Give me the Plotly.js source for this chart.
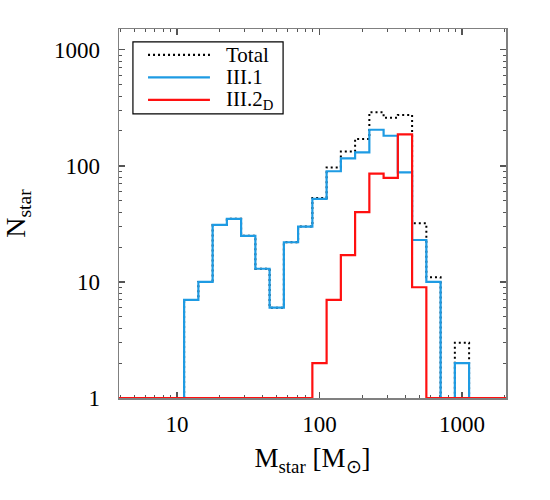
<!DOCTYPE html>
<html>
<head>
<meta charset="utf-8">
<script src="https://cdn.plot.ly/plotly-3.0.1.min.js"></script>
<style>html,body{margin:0;padding:0;background:#fff;}#chart{width:550px;height:500px;}</style>
</head>
<body>
<div id="chart"></div>
<script>
// log10 of bin edges (21 edges -> 20 bins)
var binEdgesLog = [1.05,1.15,1.25,1.35,1.45,1.55,1.65,1.75,1.85,1.95,2.05,2.15,2.25,2.35,2.45,2.55,2.65,2.75,2.85,2.95,3.05];
// counts per bin
var totalCounts = [7,10,31,35,25,13,6,22,30,53,97,133,171,290,260,275,32,11,0,3];
var pop1Counts  = [7,10,31,35,25,13,6,22,30,52,90,116,131,205,182,88,23,10,0,2];
var pop2Counts  = [0,0,0,0,0,0,0,0,0,2,7,17,40,86,79,187,9,0,0,0];
var seriesNames = ["Total","III.1","III.2<sub>D</sub>"];
var xTickVals = [10,100,1000];
var yTickVals = [1,10,100,1000];

var xRangeLog = [0.593, 3.309];
var yRangeLog = [0, 3.18];
var floorVal = Math.pow(10, yRangeLog[0]);

function stepTrace(counts, color, dash, width){
  var xs = [Math.pow(10, xRangeLog[0])];
  var ys = [floorVal];
  for (var i = 0; i < counts.length; i++){
    xs.push(Math.pow(10, binEdgesLog[i]));
    ys.push(counts[i] > 0 ? counts[i] : floorVal);
  }
  xs.push(Math.pow(10, binEdgesLog[counts.length]));
  ys.push(floorVal);
  xs.push(Math.pow(10, xRangeLog[1]));
  ys.push(floorVal);
  return {x: xs, y: ys, mode: 'lines', type: 'scatter', showlegend: false,
          line: {shape: 'hv', color: color, width: width, dash: dash}, hoverinfo: 'skip'};
}

var colTotal = '#000000', colP1 = '#1e9be3', colP2 = '#ff1010';
var data = [
  stepTrace(totalCounts, colTotal, '2px,3px', 2),
  stepTrace(pop1Counts, colP1, 'solid', 2.2),
  stepTrace(pop2Counts, colP2, 'solid', 2.2)
];

function minorVals(lo, hi){
  var v = [];
  for (var d = lo; d < hi; d++) for (var m = 2; m <= 9; m++) v.push(m * Math.pow(10, d));
  return v;
}

var serif = 'Liberation Serif, Times New Roman, serif';
var axCommon = {
  type: 'log', showgrid: false, zeroline: false,
  showline: true, linecolor: '#808080', linewidth: 1.5, mirror: 'allticks',
  ticks: 'inside', ticklen: 6, tickwidth: 1.2, tickcolor: '#555',
  tickfont: {family: serif, size: 23, color: '#000'},
  layer: 'below traces'
};

var xaxis = Object.assign({}, axCommon, {
  range: xRangeLog, tickmode: 'array', tickvals: xTickVals, ticktext: ['10','100','1000'],
  ticklabelstandoff: 5,
  minor: {tickmode: 'array', tickvals: minorVals(0, 4), ticks: 'inside', ticklen: 3, tickcolor: '#555', tickwidth: 1},
  title: {text: 'M<sub>star</sub> [M<sub>⊙</sub>]', font: {family: serif, size: 27, color: '#000'}, standoff: 12}
});
var yaxis = Object.assign({}, axCommon, {
  range: yRangeLog, tickmode: 'array', tickvals: yTickVals, ticktext: ['1','10','100','1000'],
  ticklabelstandoff: 13,
  minor: {tickmode: 'array', tickvals: minorVals(0, 4), ticks: 'inside', ticklen: 3, tickcolor: '#555', tickwidth: 1},
  title: {text: 'N<sub>star</sub>', font: {family: serif, size: 28, color: '#000'}, standoff: 22}
});

// manual legend (paper coords)
var L = {x0: 0.036, x1: 0.424, y0: 0.77, y1: 0.965};
var rowY = [0.930, 0.869, 0.808];
var rowCol = [colTotal, colP1, colP2];
var rowDash = ['2px,3px', 'solid', 'solid'];
var shapes = [{type: 'rect', xref: 'paper', yref: 'paper', x0: L.x0, x1: L.x1, y0: L.y0, y1: L.y1,
  line: {color: '#000', width: 1.2}, fillcolor: 'rgba(255,255,255,0)'}];
var annotations = [];
for (var k = 0; k < 3; k++){
  shapes.push({type: 'line', xref: 'paper', yref: 'paper', x0: 0.075, x1: 0.235, y0: rowY[k], y1: rowY[k],
    line: {color: rowCol[k], width: 2.2, dash: rowDash[k]}});
  annotations.push({xref: 'paper', yref: 'paper', x: 0.272, y: rowY[k], xanchor: 'left', yanchor: 'middle',
    text: seriesNames[k], showarrow: false, font: {family: serif, size: 21, color: '#000'}});
}

var layout = {
  width: 550, height: 500,
  margin: {l: 119, r: 44, t: 29, b: 102},
  paper_bgcolor: '#fff', plot_bgcolor: '#fff',
  xaxis: xaxis, yaxis: yaxis,
  shapes: shapes, annotations: annotations,
  showlegend: false
};

Plotly.newPlot('chart', data, layout, {displayModeBar: false, staticPlot: true});
</script>
</body>
</html>
